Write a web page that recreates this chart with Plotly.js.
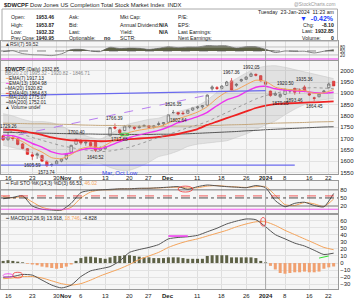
<!DOCTYPE html>
<html><head><meta charset="utf-8">
<script src="https://cdn.plot.ly/plotly-3.0.1.min.js"></script>
<style>html,body{margin:0;padding:0;background:#fff}#c{width:358px;height:300px}</style>
</head><body><div id="c"></div>
<script>
// ---------- data ----------
const dates = ['2023-10-13','2023-10-16','2023-10-17','2023-10-18','2023-10-19','2023-10-20','2023-10-23','2023-10-24','2023-10-25','2023-10-26','2023-10-27','2023-10-30','2023-10-31','2023-11-01','2023-11-02','2023-11-03','2023-11-06','2023-11-07','2023-11-08','2023-11-09','2023-11-10','2023-11-13','2023-11-14','2023-11-15','2023-11-16','2023-11-17','2023-11-20','2023-11-21','2023-11-22','2023-11-24','2023-11-27','2023-11-28','2023-11-29','2023-11-30','2023-12-01','2023-12-04','2023-12-05','2023-12-06','2023-12-07','2023-12-08','2023-12-11','2023-12-12','2023-12-13','2023-12-14','2023-12-15','2023-12-18','2023-12-19','2023-12-20','2023-12-21','2023-12-22','2023-12-26','2023-12-27','2023-12-28','2023-12-29','2024-01-02','2024-01-03','2024-01-04','2024-01-05','2024-01-08','2024-01-09','2024-01-10','2024-01-11','2024-01-12','2024-01-16','2024-01-17','2024-01-18','2024-01-19','2024-01-22','2024-01-23'];
const open  = [1712,1695,1704,1698,1676,1655,1628,1625,1625,1598,1582,1588,1600,1610,1640,1675,1692,1680,1682,1688,1648,1655,1712,1750,1738,1735,1752,1750,1748,1754,1756,1750,1762,1765,1772,1815,1815,1812,1812,1826,1836,1840,1848,1920,1925,1922,1935,1955,1935,1955,1962,1975,1984,1978,1950,1910,1892,1885,1895,1910,1922,1915,1928,1898,1880,1885,1905,1925,1953.46];
const high  = [1716,1729.26,1712,1702,1680,1658,1640,1638,1628,1604,1592,1605,1612,1632,1672,1700.40,1696,1688,1686,1692,1665,1668,1750,1766.39,1742,1760,1760,1754,1760,1762,1758,1760,1775,1772,1808,1826.35,1818,1822,1828,1840,1845,1848,1895,1935,1932,1935,1955,1967.36,1945,1965,1975,1992.05,1988,1980,1952,1912,1908,1900,1920.50,1918,1925,1922,1935.36,1902,1885,1900,1915,1948,1953.87];
const low   = [1690,1690,1690,1670,1652,1627,1605.59,1610,1596,1573.74,1575,1585,1595,1605,1638,1672,1672,1668,1662,1640.52,1644,1650,1710,1740,1717.88,1733,1745,1738,1745,1752,1745,1744,1756,1755,1770,1808,1802.64,1805,1810,1822,1830,1832,1845,1912,1915,1918,1932,1912,1928,1950,1960,1972,1975,1952,1930,1885,1888,1879.05,1893,1900,1893.46,1898,1905,1888,1864.45,1882,1900,1922,1932.32];
const close = [1694,1706,1700,1674,1656,1630,1622,1632,1600,1580,1585,1600,1610,1630,1670,1695,1680,1684,1668,1648,1658,1662,1748,1746,1725,1755,1756,1745,1752,1758,1750,1756,1765,1770,1805,1815,1808,1810,1825,1836,1840,1845,1892,1928,1922,1932,1950,1915,1940,1960,1972,1986,1980,1955,1940,1890,1898,1895,1918,1912,1905,1912,1908,1893,1878,1897,1910,1940.95,1932.85];

// indicator readings, every second session
const lineDates = ['2023-10-13','2023-10-17','2023-10-19','2023-10-23','2023-10-25','2023-10-27','2023-10-31','2023-11-02','2023-11-06','2023-11-08','2023-11-10','2023-11-14','2023-11-16','2023-11-20','2023-11-22','2023-11-27','2023-11-29','2023-12-01','2023-12-05','2023-12-07','2023-12-11','2023-12-13','2023-12-15','2023-12-19','2023-12-21','2023-12-26','2023-12-28','2024-01-02','2024-01-04','2024-01-08','2024-01-10','2024-01-12','2024-01-17','2024-01-19','2024-01-23'];
const ema7   = [1705,1704,1686,1660,1640,1615,1611,1629,1655,1664,1660,1682,1705,1727,1737,1744,1752,1768,1787,1801,1817,1841,1878,1906,1916,1938,1958,1953,1927,1919,1914,1912,1900,1902,1917.13];
const ema13  = [1715,1712,1698,1678,1662,1641,1631,1636,1650,1657,1655,1669,1686,1704,1716,1726,1736,1751,1770,1783,1797,1816,1845,1871,1885,1907,1927,1931,1920,1914,1911,1909,1903,1901,1904.98];
const ma20   = [1740,1730,1718,1705,1692,1680,1668,1660,1652,1647,1642,1645,1652,1662,1675,1690,1705,1718,1733,1748,1760,1775,1795,1815,1835,1855,1875,1890,1900,1910,1918,1923,1925,1923,1920.82];
const bbUp   = [1810,1800,1785,1775,1775,1770,1755,1735,1720,1705,1698,1720,1745,1765,1775,1785,1790,1805,1820,1830,1845,1870,1905,1940,1965,1990,2010,2020,2022,2015,2005,1995,1985,1975,1965];
const bbLo   = [1670,1660,1650,1635,1610,1590,1580,1585,1585,1590,1590,1572,1560,1560,1575,1595,1620,1630,1645,1665,1675,1680,1685,1690,1705,1720,1740,1760,1778,1805,1830,1850,1865,1872,1877];
const ema40  = [1740,1738,1733,1725,1716,1705,1697,1692,1691,1690,1688,1690,1693,1697,1700,1703,1707,1713,1720,1730,1742,1760,1775,1790,1805,1820,1835,1846,1852,1855,1857,1859,1860,1862,1864.63];
const ma100  = [1768,1767,1766,1765,1765,1764,1763,1762,1760,1759,1758,1758,1757,1756,1755,1755,1754,1754,1755,1755,1756,1757,1758,1760,1761,1762,1764,1766,1768,1769,1770,1771,1773,1774,1775.07];
const ma200  = [1728,1727,1726,1725,1724,1723,1722,1721,1720,1720,1719,1719,1718,1718,1718,1718,1719,1719,1720,1721,1723,1725,1727,1729,1731,1734,1736,1739,1741,1743,1745,1747,1749,1751,1752.01];
const rsi    = [45,52,30,22,20,15,28,60,62,50,45,78,68,72,70,62,70,82,75,80,80,90,88,88,72,82,82,62,38,50,47,48,35,48,59.52];
const stoK   = [47,52,58,20,8,5,5,30,70,78,80,82,84,84,86,86,88,90,92,82,92,98,95,92,90,88,96,88,40,17,30,34,22,17,66.53];
const stoD   = [55,50,55,35,15,7,5,15,50,72,80,80,83,84,85,86,87,89,90,87,88,94,96,93,91,89,92,92,60,25,22,33,28,18,46.02];
const macd   = [-20,-19,-16,-17,-24,-31,-35,-31,-19,-11,-8,-5,3,15,19,22,26,34,36,37,39,44,49,55,59,62,61,51,40,34,28,24,18,12,13.918];
const signal = [-22,-21,-19,-19,-21,-25,-29,-31,-29,-24,-18,-13,-8,-2,5,10,15,22,27,31,34,38,42,46,51,55,58,58,53,46,40,34,28,22,18.746];
const hist   = [3,4,3,2,1,-1,-2,-3,-5,-6,-7,-8,-7,-5,-2,3,7,9,9,8,7,6,8,10,10,11,11,10,9,8,8,7,7,7,8,8,8,7,6,6,6,6,10,11,11,11,11,8,8,8,8,8,7,3,1,-4,-9,-14,-15,-14,-13,-13,-12,-13,-13,-12,-8,-6,-4.828];

const tickDates  = ['2023-10-16','2023-10-23','2023-10-30','2023-11-01','2023-11-06','2023-11-13','2023-11-20','2023-11-27','2023-12-01','2023-12-11','2023-12-18','2023-12-26','2024-01-02','2024-01-08','2024-01-16','2024-01-22'];
const tickLabels = ['16','23','30','<b>Nov</b>','6','13','20','27','<b>Dec</b>','11','18','26','<b>2024</b>','8','16','22'];

const priceLabels = [['2023-10-16',1729.26,1],['2023-10-23',1605.59,-1],['2023-10-26',1573.74,-1],['2023-11-03',1700.40,1],['2023-11-09',1640.52,-1],['2023-11-15',1766.39,1],['2023-11-16',1717.88,-1],['2023-12-04',1826.35,1],['2023-12-05',1802.64,-1],['2023-12-20',1967.36,1],['2023-12-27',1992.05,1],['2024-01-05',1879.05,-1],['2024-01-08',1920.50,1],['2024-01-10',1893.46,-1],['2024-01-12',1935.36,1],['2024-01-17',1864.45,-1]];

// ---------- helpers ----------
const W=358,H=300;
const PX=v=>v/W, PY=v=>1-v/H;
const FONT='Liberation Sans, Arial, sans-serif';
const XR=[-0.44,68.9];
const ORANGE='#f4a35a', MAG='#ee33ee', RED='#ee2222', OLIVE='#5d6145';

function xax(anchor){
  return {anchor:anchor, type:'category', categoryorder:'array', categoryarray:dates,
    range:XR, domain:[PX(1),PX(338)], showgrid:true, gridcolor:'#dedede', gridwidth:1,
    tickmode:'array', tickvals:tickDates, ticktext:tickLabels, showticklabels:false,
    ticks:'', showline:true, mirror:true, linecolor:'#999', linewidth:1,
    zeroline:false, fixedrange:true, rangeslider:{visible:false}};
}
function yax(dom, range, tv, fs){
  return {domain:dom, range:range, side:'right', tickvals:tv, ticks:'', tickfont:{size:fs||6,color:'#222'},
    showgrid:true, gridcolor:'#e2e2e2', zeroline:false, showline:true, mirror:true, linecolor:'#999', linewidth:1, fixedrange:true};
}
const L=(x,y,c,w,d,xa,ya,extra)=>Object.assign({type:'scatter',mode:'lines',x:x,y:y,xaxis:xa||'x',yaxis:ya||'y',
  line:{color:c,width:w,dash:d||'solid',shape:'spline',smoothing:0.6},hoverinfo:'skip'},extra||{});

const traces=[];
traces.push(L(lineDates,bbLo,'#c9c9c9',0.6));
traces.push(L(lineDates,bbUp,'#c9c9c9',0.6,'solid','x','y',{fill:'tonexty',fillcolor:'rgba(150,150,150,0.22)'}));
traces.push(L(lineDates,ma200,'#555',1));
traces.push(L(lineDates,ma100,'#c4a77d',1));
traces.push(L(lineDates,ema40,RED,1.8));
traces.push(L(lineDates,ma20,'#888',0.8,'dot'));
traces.push(L(lineDates,ema13,MAG,1.4));
traces.push(L(lineDates,ema7,ORANGE,1));
traces.push({type:'candlestick',x:dates,open:open,high:high,low:low,close:close,xaxis:'x',yaxis:'y',
  whiskerwidth:0, hoverinfo:'skip',
  increasing:{line:{color:'#555',width:0.7},fillcolor:'#ffffff'},
  decreasing:{line:{color:'#dd2222',width:0.7},fillcolor:'#ee3b3b'}});

traces.push(L(lineDates,lineDates.map(()=>50),'rgba(0,0,0,0)',0,'solid','x2','y2'));
traces.push(L(lineDates,rsi.map(v=>Math.max(v,50)),'rgba(0,0,0,0)',0,'solid','x2','y2',{fill:'tonexty',fillcolor:OLIVE}));
traces.push(L(lineDates,rsi,'#666',0.8,'solid','x2','y2'));

traces.push(L(lineDates,stoD,ORANGE,1,'solid','x3','y3'));
traces.push(L(lineDates,stoK,'#555',1,'solid','x3','y3'));

traces.push({type:'bar',x:dates,y:hist,xaxis:'x4',yaxis:'y4',width:0.62,hoverinfo:'skip',
  marker:{color:hist.map(v=>v>=0?OLIVE:'#f0a070'),line:{width:0}}});
traces.push(L(lineDates,signal,ORANGE,1,'solid','x4','y4'));
traces.push(L(lineDates,macd,'#555',1,'solid','x4','y4'));

// ---------- annotations ----------
const ann=[];
const F=(s,c)=>({size:s,color:c||'#222',family:FONT});
const T=(x,y,text,opt)=>ann.push(Object.assign({xref:'paper',yref:'paper',x:PX(x),y:PY(y),text:text,showarrow:false,
  xanchor:'left',yanchor:'middle',font:F(5.2)},opt||{}));
T(2,4.5,'<b>$DWCPF</b> Dow Jones US Completion Total Stock Market Index  INDX',{font:F(5.8)});
T(337,4.5,'@StockCharts.com',{xanchor:'right',font:F(4.8,'#999')});
const rows=[17.3,24.7,31.7,38.3];
['Open:','High:','Low:'].forEach((t,i)=>T(9,rows[i],t));
T(9,rows[3],'Prev Close:',{font:F(4.7)});
['1953.46','1953.87','1932.32','1940.95'].forEach((t,i)=>T(56,rows[i],'<b>'+t+'</b>',{xanchor:'right',font:F(5)}));
['Ask:','Bid:','Last:','Optionable:'].forEach((t,i)=>T(67,rows[i],t));
T(102,rows[3],'<b>no</b>');
['Mkt Cap:','Annual Dividend:','Yield:','SCTR:'].forEach((t,i)=>T(118,rows[i],t));
T(170,rows[1],'<b>N/A</b>',{xanchor:'right'});
T(170,rows[2],'<b>N/A</b>',{xanchor:'right'});
['P/E:','EPS:','Last Earnings:','Next Earnings:'].forEach((t,i)=>T(176,rows[i],t));
T(336,12,'Tuesday  23-Jan-2024  11:23 am',{xanchor:'right'});
T(336,18.8,'<b>▼  -0.42%</b>',{xanchor:'right',font:F(7,'#1a3cff')});
T(301,25,'Chg:');
T(336,25,'<b>-8.10</b>',{xanchor:'right'});
T(300,31.5,'Last:');
T(336,31.5,'<b>1932.85</b>',{xanchor:'right'});
T(300,38.3,'Volume:');
T(336,38.3,'<b>0</b>',{xanchor:'right'});

T(3,44.3,'▲RSI(7) 59.52',{font:F(5,'#333')});
const leg=[['<b>$DWCPF</b> (Daily) 1932.85','#222'],['BB(20,2.0) 1995.32 - 1920.82 - 1846.71','#888'],['<span style="color:'+ORANGE+'">━</span>EMA(7) 1917.13','#222'],
  ['<span style="color:'+MAG+'">━</span>EMA(13) 1904.98','#222'],['<span style="color:#888">╍</span>MA(20) 1920.82','#222'],['<span style="color:'+RED+'">━</span>EMA(40) 1864.63','#222'],
  ['<span style="color:#c4a77d">━</span>MA(100) 1775.07','#222'],['<span style="color:#555">━</span>MA(200) 1752.01','#222'],['▲ Volume undef','#222']];
leg.forEach((l,i)=>T(3,69+i*4.8,l[0],{font:F(4.8,l[1])}));
T(3,183.3,'<span style="color:#555">━</span> Full STO %K(14,3) %D(3) 66.53, <span style="color:'+ORANGE+'">46.02</span>',{font:F(5)});
T(3,218.3,'<span style="color:#555">━</span> MACD(12,26,9) 13.918, <span style="color:'+ORANGE+'">18.746</span>, -4.828',{font:F(5)});
T(100,173,'Mar, Oct Low',{font:F(6,'#3344ee')});

tickDates.forEach((d,i)=>{
  ann.push({xref:'x',yref:'paper',x:d,y:PY(177.8),text:tickLabels[i],showarrow:false,xanchor:'center',yanchor:'middle',font:F(6)});
  ann.push({xref:'x4',yref:'paper',x:d,y:PY(295.5),text:tickLabels[i],showarrow:false,xanchor:'center',yanchor:'middle',font:F(6)});
});

priceLabels.forEach(p=>ann.push({xref:'x',yref:'y',x:p[0],y:p[1],text:p[1].toFixed(2),showarrow:false,
  yshift:p[2]*5.5,font:F(4.6),xanchor:'center',yanchor:'middle'}));

// ---------- shapes ----------
const shapes=[];
shapes.push({type:'rect',xref:'paper',yref:'paper',x0:PX(2),x1:PX(337.5),y0:PY(41),y1:PY(9),line:{color:'#aaa',width:1},fillcolor:'rgba(0,0,0,0)'});
[[80,'#aaa','solid'],[20,'#aaa','solid'],[50,'#555','dash']].forEach(g=>shapes.push({type:'line',xref:'x2 domain',yref:'y2',x0:0,x1:1,y0:g[0],y1:g[0],line:{color:g[1],width:0.7,dash:g[2]}}));
shapes.push({type:'line',xref:'x2 domain',yref:'paper',x0:0,x1:1,y0:PY(59),y1:PY(59),line:{color:MAG,width:1}});
[[80,'#555','solid'],[20,'#555','solid'],[57.5,'#ee3333','dash'],[50,'#222','dashdot'],[8,MAG,'solid']].forEach(g=>shapes.push({type:'line',xref:'x3 domain',yref:'y3',x0:0,x1:1,y0:g[0],y1:g[0],line:{color:g[1],width:0.8,dash:g[2]}}));
['x','x2','x3','x4'].forEach(a=>shapes.push({type:'line',xref:a,yref:a.replace('x','y')+' domain',x0:'2024-01-02',x1:'2024-01-02',y0:0,y1:1,line:{color:'#aaa',width:1}}));
shapes.push({type:'line',xref:'x',yref:'y',x0:XR[0],x1:'2024-01-02',y0:1890,y1:1912,line:{color:'#6a6aee',width:1.2}});
shapes.push({type:'line',xref:'x',yref:'y',x0:XR[0],x1:'2024-01-10',y0:1582,y1:1582,line:{color:'#6a6aee',width:1.2}});
shapes.push({type:'line',xref:'x',yref:'y',x0:XR[0],x1:'2023-12-13',y0:1700,y1:1892,line:{color:'#b070ee',width:0.9,dash:'dash'}});
shapes.push({type:'circle',xref:'x',yref:'y',x0:'2023-11-16',x1:'2023-11-20',y0:1712,y1:1724,line:{color:'#33cc33',width:0.9}});
shapes.push({type:'circle',xref:'x4',yref:'y4',x0:'2023-10-17',x1:'2023-10-19',y0:-21,y1:-13,line:{color:'#ee3333',width:0.8}});
shapes.push({type:'circle',xref:'x4',yref:'y4',x0:'2023-10-13',x1:'2023-10-17',y0:-20,y1:-15,line:{color:MAG,width:0.8}});
shapes.push({type:'circle',xref:'x4',yref:'y4',x0:'2023-12-29',x1:'2024-01-02',y0:52,y1:64,line:{color:'#ee3333',width:0.8}});
shapes.push({type:'line',xref:'x4',yref:'y4',x0:'2023-12-01',x1:'2023-12-07',y0:38,y1:38,line:{color:MAG,width:1.5}});
shapes.push({type:'line',xref:'x4',yref:'y4',x0:'2024-01-18',x1:'2024-01-22',y0:7,y1:10,line:{color:'#33dd33',width:1}});
shapes.push({type:'circle',xref:'x3',yref:'y3',x0:'2023-12-05',x1:'2023-12-08',y0:72,y1:94,line:{color:'#ee3333',width:0.8}});

const layout={width:358,height:300,margin:{l:0,r:0,t:0,b:0},paper_bgcolor:'#ffffff',plot_bgcolor:'#f6f6f6',
  showlegend:false,font:{family:FONT,size:6,color:'#222'},bargap:0.3,
  xaxis:xax('y'), yaxis:yax([PY(174),PY(61)],[1543,2043],[1550,1600,1650,1700,1750,1800,1850,1900,1950,2000]),
  xaxis2:xax('y2'), yaxis2:yax([PY(60),PY(41)],[-18,125],[20,50,80],4.5),
  xaxis3:xax('y3'), yaxis3:yax([PY(213),PY(181)],[-6,113],[20,50,80]),
  xaxis4:xax('y4'), yaxis4:yax([PY(289),PY(215)],[-36.5,67.6],[-30,-20,-10,0,10,20,30,40,50,60]),
  annotations:ann, shapes:shapes};
layout.yaxis2.showgrid=false; layout.yaxis3.showgrid=false;
layout.plot_bgcolor='#f6f6f6';
Plotly.newPlot('c',traces,layout,{staticPlot:true,displayModeBar:false});
</script></body></html>
